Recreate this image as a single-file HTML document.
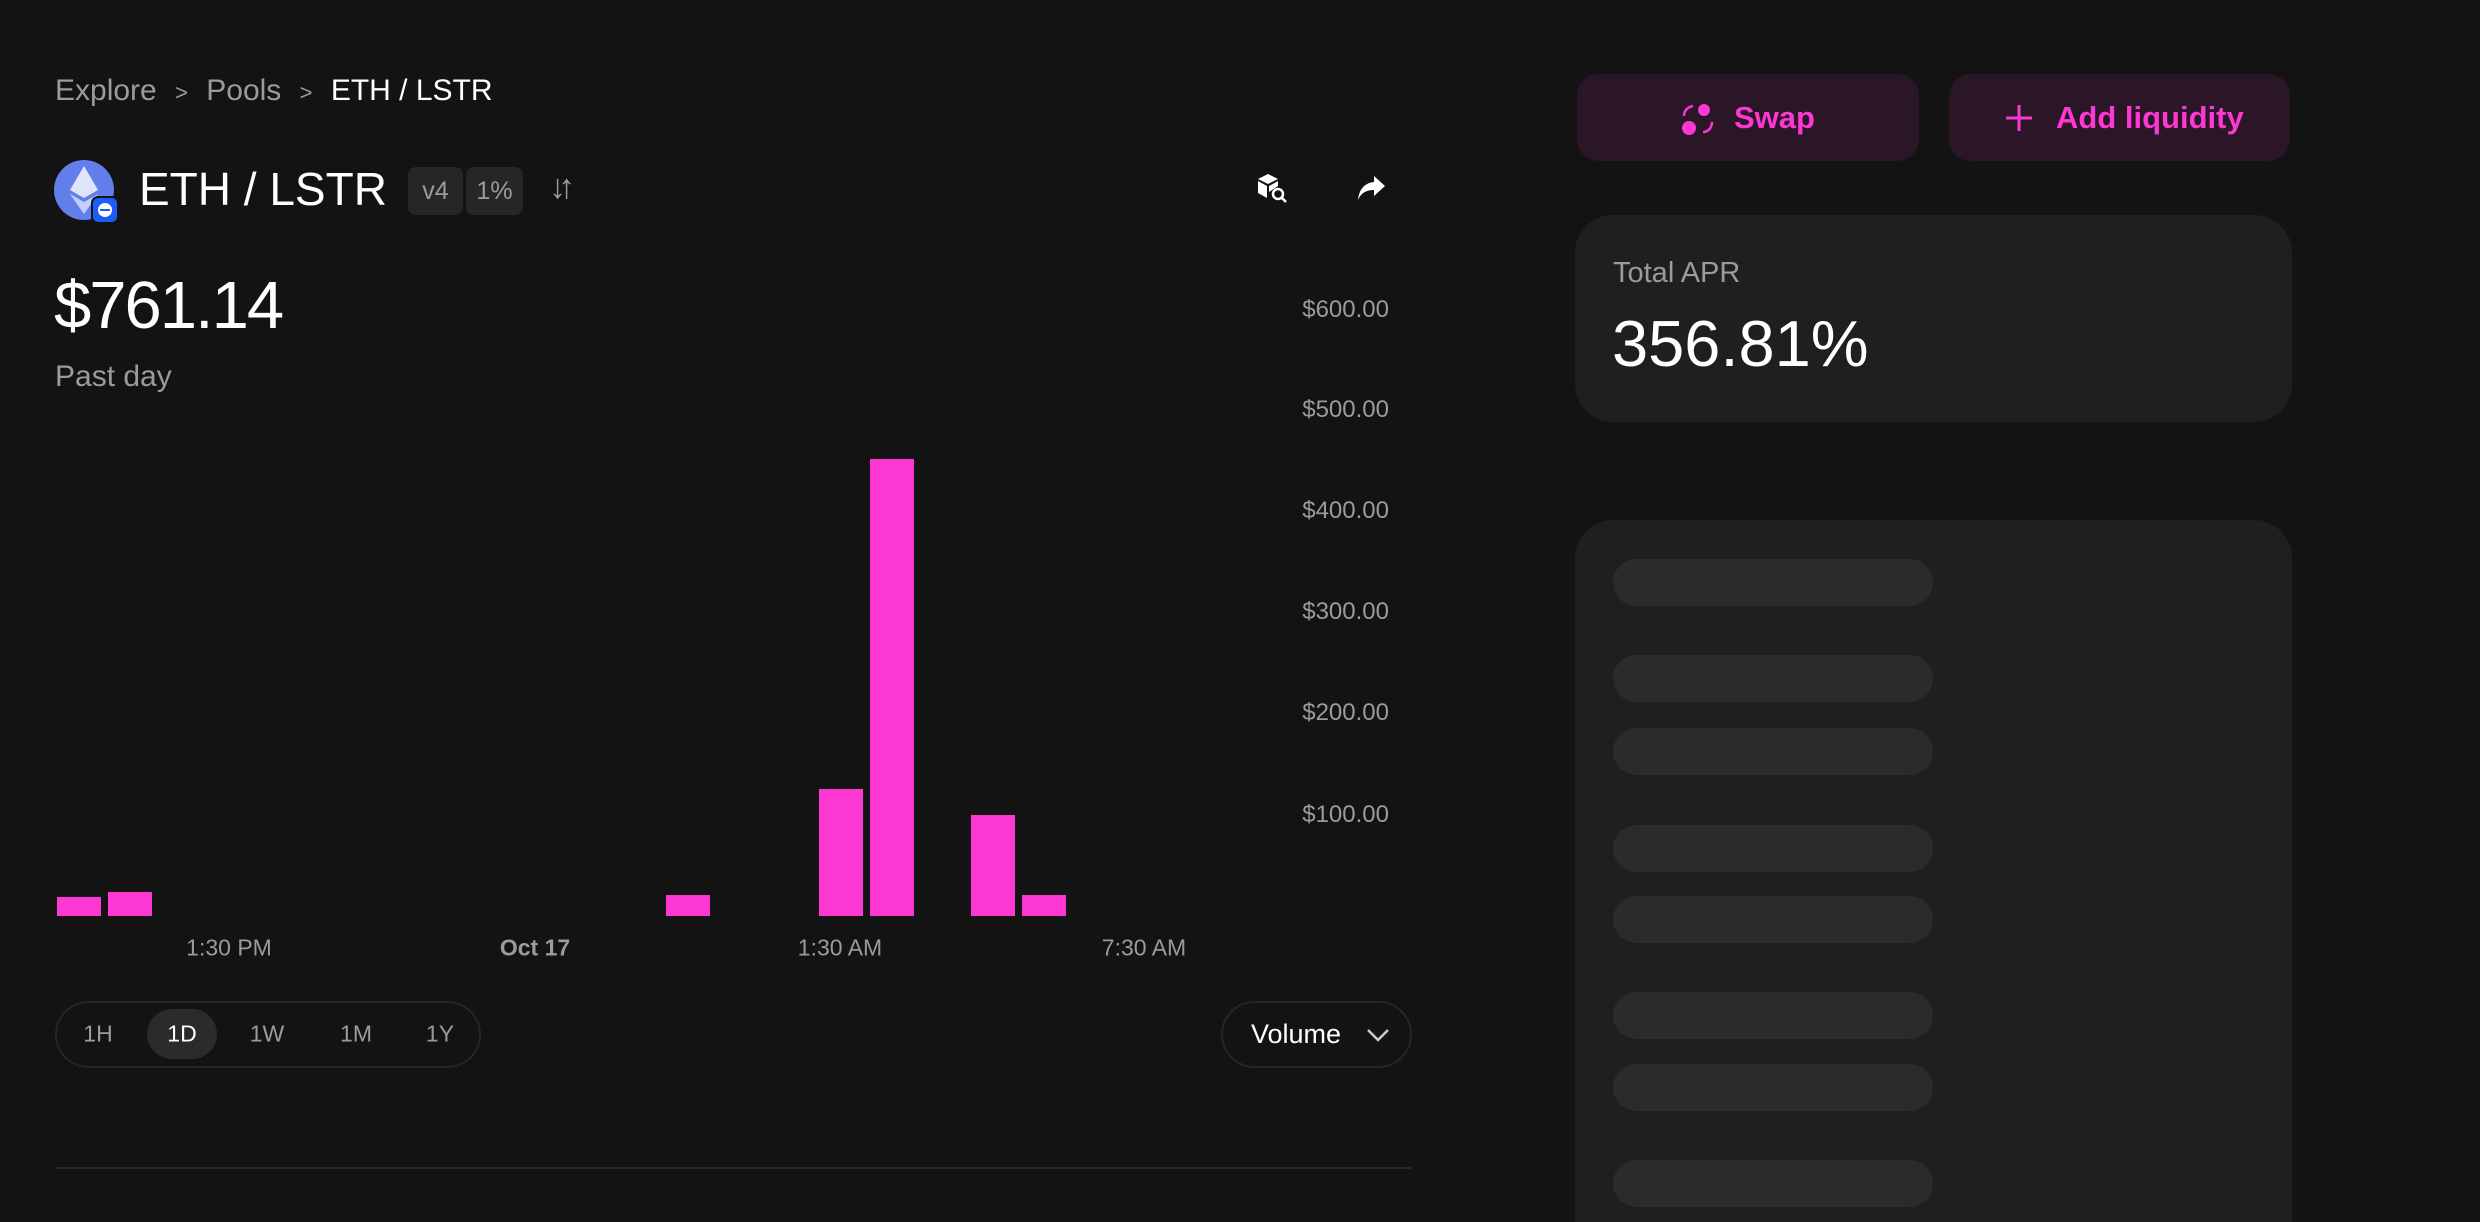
<!DOCTYPE html>
<html><head><meta charset="utf-8"><style>
*{margin:0;padding:0;box-sizing:border-box}
html{width:2480px;height:1222px;overflow:hidden}
body{width:2480px;height:1222px;background:#131313;overflow:hidden;font-family:"Liberation Sans",sans-serif;position:relative;color:#fff}
.a{position:absolute;white-space:nowrap}
.yl{position:absolute;right:1091px;font-size:24px;color:#9b9b9b;transform:translateY(-50%)}
.xl{position:absolute;font-size:23px;color:#9b9b9b;transform:translate(-50%,-50%);top:948px}
.bar{position:absolute;background:#fc37d2;width:44px}
.sk{position:absolute;left:1613px;width:320px;height:47px;border-radius:24px;background:#2b2b2b}
.tp{position:absolute;top:1034px;transform:translate(-50%,-50%);font-size:23px;color:#9b9b9b}
</style></head><body>
<div class="a" style="left:55px;top:74px;font-size:30px;color:#9b9b9b">Explore <span style="font-size:22px;margin:0 10px">&gt;</span> Pools <span style="font-size:22px;margin:0 10px">&gt;</span> <span style="color:#fff">ETH / LSTR</span></div>

<div class="a" style="left:54px;top:160px;width:60px;height:60px;border-radius:50%;background:#627eea"></div>
<svg class="a" style="left:68px;top:164px" width="32" height="52" viewBox="0 0 32 52"><polygon points="16,2 30,26 16,34 2,26" fill="#dfe4fb"/><polygon points="16,38 30,30 16,50 2,30" fill="#c5cef8"/></svg>
<div class="a" style="left:91px;top:196px;width:28px;height:28px;border-radius:7px;background:#1d5cf5;border:2px solid #131313"></div>
<div class="a" style="left:98px;top:203px;width:14px;height:14px;border-radius:50%;background:#fff"></div>
<div class="a" style="left:100px;top:209px;width:10px;height:2px;background:#1d5cf5"></div>

<div class="a" style="left:139px;top:161px;font-size:46px;line-height:56px">ETH / LSTR</div>
<div class="a" style="left:408px;top:167px;width:55px;height:48px;border-radius:8px;background:#262626;color:#9b9b9b;font-size:25px;line-height:48px;text-align:center">v4</div>
<div class="a" style="left:466px;top:167px;width:57px;height:48px;border-radius:8px;background:#262626;color:#9b9b9b;font-size:25px;line-height:48px;text-align:center">1%</div>
<div class="a" style="left:549px;top:168px;font-size:34px;color:#9b9b9b;letter-spacing:-8px">↓↑</div>
<svg class="a" style="left:1256px;top:172px" width="32" height="32" viewBox="0 0 32 32"><polygon points="12,2 22,7 12,12 2,7" fill="#fff"/><polygon points="2,9 11,14 11,26 2,21" fill="#fff"/><polygon points="13,14 22,9 22,14 13,20" fill="#fff"/><circle cx="22" cy="22" r="5" fill="none" stroke="#fff" stroke-width="2.5"/><line x1="25" y1="25" x2="30" y2="30" stroke="#fff" stroke-width="2.5"/></svg>
<svg class="a" style="left:1356px;top:174px" width="30" height="28" viewBox="0 0 30 28"><path d="M18 2 L29 12 L18 22 L18 16 C10 16 5 19 2 26 C3 16 8 9 18 8 Z" fill="#fff"/></svg>

<div class="a" style="left:54px;top:268px;font-size:67px;line-height:76px;letter-spacing:-2px">$761.14</div>
<div class="a" style="left:55px;top:360px;font-size:30px;color:#9b9b9b">Past day</div>

<div class="yl" style="top:310px">$600.00</div>
<div class="yl" style="top:410px">$500.00</div>
<div class="yl" style="top:511px">$400.00</div>
<div class="yl" style="top:612px">$300.00</div>
<div class="yl" style="top:713px">$200.00</div>
<div class="yl" style="top:815px">$100.00</div>

<div class="bar" style="left:57px;top:897px;height:19px"></div>
<div class="bar" style="left:108px;top:892px;height:24px"></div>
<div class="bar" style="left:666px;top:895px;height:21px"></div>
<div class="bar" style="left:819px;top:789px;height:127px"></div>
<div class="bar" style="left:870px;top:459px;height:457px"></div>
<div class="bar" style="left:971px;top:815px;height:101px"></div>
<div class="bar" style="left:1022px;top:895px;height:21px"></div>

<div class="xl" style="left:229px">1:30 PM</div>
<div class="xl" style="left:535px;font-weight:bold">Oct 17</div>
<div class="xl" style="left:840px">1:30 AM</div>
<div class="xl" style="left:1144px">7:30 AM</div>

<div class="a" style="left:55px;top:1001px;width:426px;height:67px;border-radius:34px;border:2px solid #262626"></div>
<div class="a" style="left:147px;top:1009px;width:70px;height:50px;border-radius:25px;background:#2b2b2b"></div>
<div class="tp" style="left:98px">1H</div>
<div class="tp" style="left:182px;color:#fff">1D</div>
<div class="tp" style="left:267px">1W</div>
<div class="tp" style="left:356px">1M</div>
<div class="tp" style="left:440px">1Y</div>

<div class="a" style="left:1221px;top:1001px;width:191px;height:67px;border-radius:34px;border:2px solid #262626"></div>
<div class="a" style="left:1251px;top:1019px;font-size:27px">Volume</div>
<svg class="a" style="left:1366px;top:1027px" width="24" height="16" viewBox="0 0 24 16"><polyline points="2,3 12,13 22,3" fill="none" stroke="#ccc" stroke-width="2.5"/></svg>

<div class="a" style="left:55px;top:1167px;width:1357px;height:2px;background:#262626"></div>

<div class="a" style="left:1577px;top:74px;width:342px;height:87px;border-radius:22px;background:#2a1627"></div>
<div class="a" style="left:1949px;top:74px;width:341px;height:87px;border-radius:22px;background:#2a1627"></div>
<svg class="a" style="left:1680px;top:101px" width="36" height="36" viewBox="0 0 36 36"><circle cx="24" cy="9" r="6" fill="#fc37d2"/><circle cx="9" cy="27" r="7" fill="#fc37d2"/><path d="M4 15 C4 9 8 6 13 5" fill="none" stroke="#fc37d2" stroke-width="2.5"/><path d="M32 21 C32 27 28 31 23 31" fill="none" stroke="#fc37d2" stroke-width="2.5"/></svg>
<div class="a" style="left:1734px;top:100px;font-size:31px;color:#fc37d2;font-weight:bold">Swap</div>
<svg class="a" style="left:2004px;top:103px" width="30" height="30" viewBox="0 0 30 30"><line x1="15" y1="2" x2="15" y2="28" stroke="#fc37d2" stroke-width="3"/><line x1="2" y1="15" x2="28" y2="15" stroke="#fc37d2" stroke-width="3"/></svg>
<div class="a" style="left:2056px;top:100px;font-size:31px;color:#fc37d2;font-weight:bold">Add liquidity</div>

<div class="a" style="left:1575px;top:215px;width:717px;height:207px;border-radius:38px;background:#1f1f1f"></div>
<div class="a" style="left:1613px;top:257px;font-size:29px;color:#9b9b9b">Total APR</div>
<div class="a" style="left:1612px;top:308px;font-size:65px;line-height:72px">356.81%</div>

<div class="a" style="left:1575px;top:520px;width:717px;height:702px;border-radius:38px 38px 0 0;background:#1f1f1f"></div>
<div class="sk" style="top:559px"></div>
<div class="sk" style="top:655px"></div>
<div class="sk" style="top:728px"></div>
<div class="sk" style="top:825px"></div>
<div class="sk" style="top:896px"></div>
<div class="sk" style="top:992px"></div>
<div class="sk" style="top:1064px"></div>
<div class="sk" style="top:1160px"></div>
</body></html>
